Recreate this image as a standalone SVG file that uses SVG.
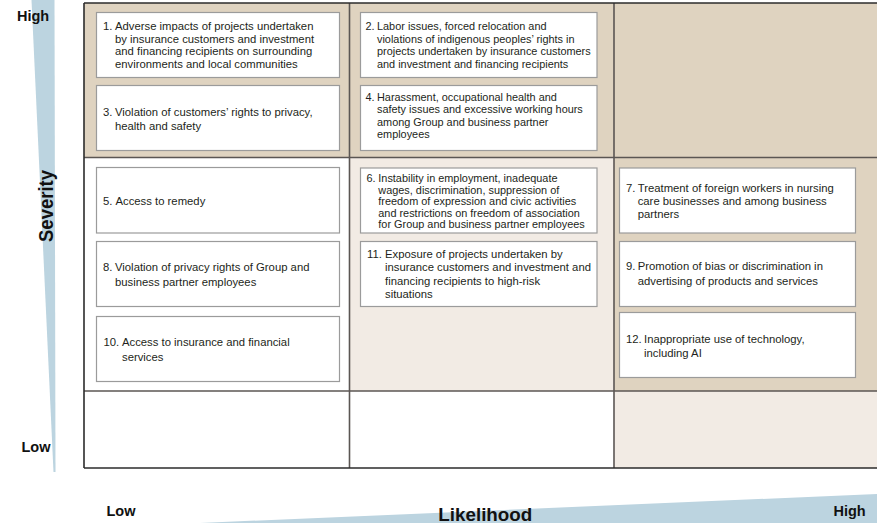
<svg xmlns="http://www.w3.org/2000/svg" width="877" height="523" viewBox="0 0 877 523">
<style>
.tan{fill:#dfd3c0}
.lt{fill:#f2ebe4}
.wh{fill:#ffffff}
.box{fill:#ffffff;stroke:#9b9b9b;stroke-width:1.2}
.t{font-family:"Liberation Sans",Arial,sans-serif;font-size:11.3px;fill:#231f20}
.tc{font-family:"Liberation Sans",Arial,sans-serif;font-size:10.9px;fill:#231f20}
.grid{stroke:#5b5653;stroke-width:1.6;fill:none}
.edge{stroke:#2b2b2b;stroke-width:1.6;fill:none}
.ax{font-family:"Liberation Sans",Arial,sans-serif;font-weight:bold;fill:#111}
.wedge{fill:#bcd4e0}
</style>
<rect x="0" y="0" width="877" height="523" fill="#ffffff"/>

<g id="axis-severity">
<polygon class="wedge" points="31.5,0 54.5,0 55.5,472 53.5,472"/>
<text class="ax" x="17" y="21" font-size="14.5">High</text>
<text class="ax" x="21.5" y="452" font-size="14.5">Low</text>
<text class="ax" font-size="20" transform="translate(52.5,206) rotate(-90)" text-anchor="middle" textLength="72" lengthAdjust="spacingAndGlyphs">Severity</text>
</g>

<g id="axis-likelihood">
<polygon class="wedge" points="200,523 877,494 877,523"/>
<text class="ax" x="106.5" y="516" font-size="14.5">Low</text>
<text class="ax" x="833.5" y="516" font-size="14.5">High</text>
<text class="ax" x="485.3" y="520.5" font-size="17.5" text-anchor="middle" textLength="94" lengthAdjust="spacingAndGlyphs">Likelihood</text>
</g>

<g id="grid">
<rect class="tan" x="84" y="3" width="793" height="154.5"/>
<rect class="wh" x="84" y="157.5" width="265.5" height="233.5"/>
<rect class="lt" x="349.5" y="157.5" width="264.5" height="233.5"/>
<rect class="tan" x="614" y="157.5" width="263" height="233.5"/>
<rect class="wh" x="84" y="391" width="530" height="77"/>
<rect class="lt" x="614" y="391" width="263" height="77"/>
<line class="grid" x1="349.5" y1="3" x2="349.5" y2="468"/>
<line class="grid" x1="614" y1="3" x2="614" y2="468"/>
<line class="grid" x1="84" y1="157.5" x2="877" y2="157.5"/>
<line class="grid" x1="84" y1="391" x2="877" y2="391"/>
<line class="edge" x1="84" y1="3" x2="877" y2="3"/>
<line class="edge" x1="84" y1="468" x2="877" y2="468"/>
<line class="edge" x1="84" y1="3" x2="84" y2="468"/>
</g>

<g id="node-1">
<rect class="box" x="96.5" y="12.5" width="243" height="65"/>
<text class="t"><tspan x="103" y="30">1.</tspan><tspan x="115" y="30">Adverse impacts of projects undertaken</tspan><tspan x="115" y="42.5">by insurance customers and investment</tspan><tspan x="115" y="55">and financing recipients on surrounding</tspan><tspan x="115" y="67.5">environments and local communities</tspan></text>
</g>

<g id="node-3">
<rect class="box" x="96.5" y="85.5" width="243" height="65"/>
<text class="t"><tspan x="103" y="116">3.</tspan><tspan x="115" y="116">Violation of customers’ rights to privacy,</tspan><tspan x="115" y="130">health and safety</tspan></text>
</g>

<g id="node-2">
<rect class="box" x="360.5" y="12.5" width="236.5" height="65"/>
<text class="tc"><tspan x="365.5" y="30">2.</tspan><tspan x="377" y="30">Labor issues, forced relocation and</tspan><tspan x="377" y="42.5">violations of indigenous peoples’ rights in</tspan><tspan x="377" y="55">projects undertaken by insurance customers</tspan><tspan x="377" y="67.5">and investment and financing recipients</tspan></text>
</g>

<g id="node-4">
<rect class="box" x="360.5" y="85.5" width="236.5" height="65"/>
<text class="tc"><tspan x="365.5" y="100.5">4.</tspan><tspan x="377" y="100.5">Harassment, occupational health and</tspan><tspan x="377" y="113">safety issues and excessive working hours</tspan><tspan x="377" y="125.5">among Group and business partner</tspan><tspan x="377" y="138">employees</tspan></text>
</g>

<g id="node-5">
<rect class="box" x="96.5" y="167.5" width="243" height="65.5"/>
<text class="t"><tspan x="103" y="204.5">5.</tspan><tspan x="115.5" y="204.5">Access to remedy</tspan></text>
</g>

<g id="node-8">
<rect class="box" x="96.5" y="241.5" width="243" height="65"/>
<text class="t"><tspan x="103" y="271">8.</tspan><tspan x="115" y="271">Violation of privacy rights of Group and</tspan><tspan x="115" y="285.5">business partner employees</tspan></text>
</g>

<g id="node-10">
<rect class="box" x="96.5" y="316.5" width="243" height="65"/>
<text class="t"><tspan x="103.5" y="346">10.</tspan><tspan x="122" y="346">Access to insurance and financial</tspan><tspan x="122" y="360.5">services</tspan></text>
</g>

<g id="node-6">
<rect class="box" x="360.5" y="168" width="236.5" height="65"/>
<text class="tc"><tspan x="366.5" y="182">6.</tspan><tspan x="378.3" y="182">Instability in employment, inadequate</tspan><tspan x="378.3" y="193.5">wages, discrimination, suppression of</tspan><tspan x="378.3" y="205">freedom of expression and civic activities</tspan><tspan x="378.3" y="216.5">and restrictions on freedom of association</tspan><tspan x="378.3" y="228">for Group and business partner employees</tspan></text>
</g>

<g id="node-11">
<rect class="box" x="360.5" y="241.5" width="236.5" height="65"/>
<text class="t"><tspan x="367" y="258">11.</tspan><tspan x="385" y="258">Exposure of projects undertaken by</tspan><tspan x="385" y="271.3">insurance customers and investment and</tspan><tspan x="385" y="284.6">financing recipients to high-risk</tspan><tspan x="385" y="297.9">situations</tspan></text>
</g>

<g id="node-7">
<rect class="box" x="619.5" y="168" width="236" height="65"/>
<text class="t"><tspan x="626" y="192">7.</tspan><tspan x="637.7" y="192">Treatment of foreign workers in nursing</tspan><tspan x="637.7" y="205">care businesses and among business</tspan><tspan x="637.7" y="218">partners</tspan></text>
</g>

<g id="node-9">
<rect class="box" x="619.5" y="241.5" width="236" height="65"/>
<text class="t"><tspan x="626" y="269.5">9.</tspan><tspan x="637.7" y="269.5">Promotion of bias or discrimination in</tspan><tspan x="637.7" y="284.5">advertising of products and services</tspan></text>
</g>

<g id="node-12">
<rect class="box" x="619.5" y="312.5" width="236" height="65"/>
<text class="t"><tspan x="626" y="343">12.</tspan><tspan x="644" y="343">Inappropriate use of technology,</tspan><tspan x="644" y="357">including AI</tspan></text>
</g>

<g id="connectors"></g>
</svg>
